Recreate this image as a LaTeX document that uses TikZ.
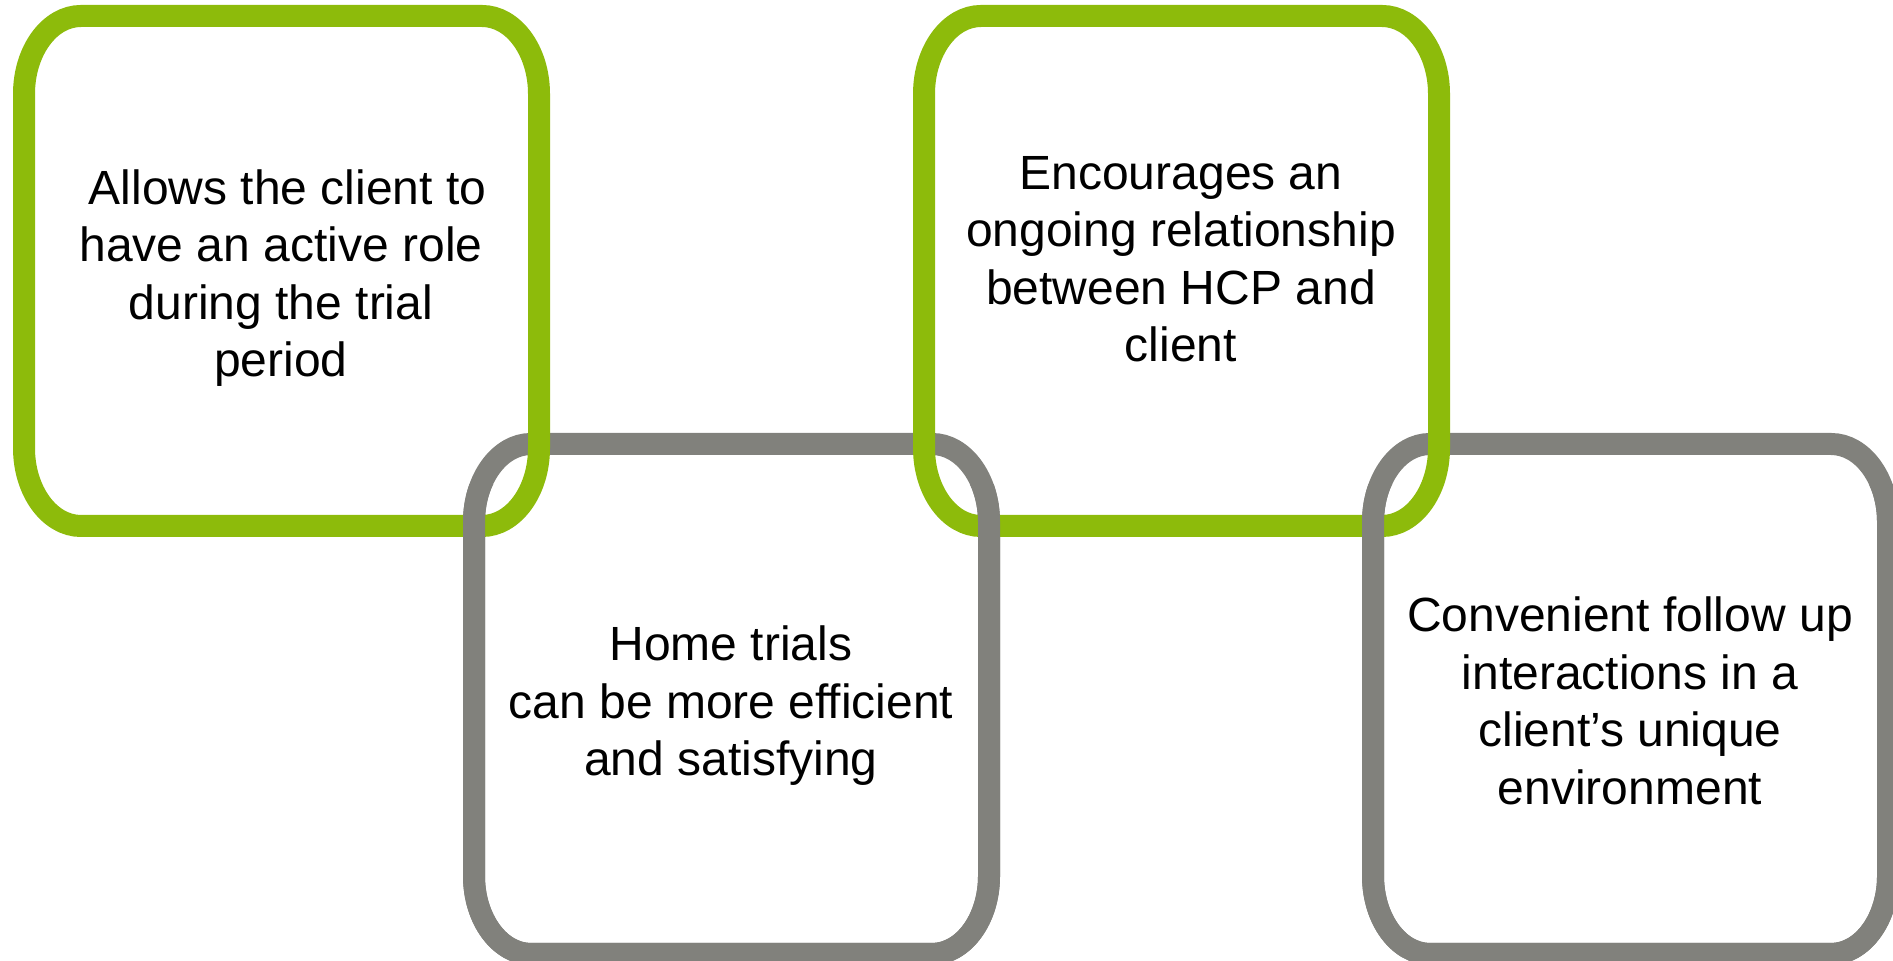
\documentclass[tikz,border=0pt]{standalone}
\usepackage{fontspec}
\setmainfont{Liberation Sans}
\definecolor{boxgreen}{HTML}{8DBB0B}
\definecolor{boxgray}{HTML}{81817C}
\newcommand\roundbox[5]{%
  \draw[#5] ({#1+57},#2) -- ({#3-57},#2)
    arc[start angle=90,end angle=0,x radius=57,y radius=78]
    -- (#3,{#4+78})
    arc[start angle=0,end angle=-90,x radius=57,y radius=78]
    -- ({#1+57},#4)
    arc[start angle=270,end angle=180,x radius=57,y radius=78]
    -- (#1,{#2-78})
    arc[start angle=180,end angle=90,x radius=57,y radius=78]
    -- cycle;}
\begin{document}
\begin{tikzpicture}[x=0.5pt,y=0.5pt,
  frame/.style={line width=11pt},
  greenframe/.style={frame,draw=boxgreen},
  grayframe/.style={frame,draw=boxgray},
  boxtext/.style={align=center,inner sep=0pt,text=black,
    font=\fontsize{24}{28.75}\selectfont}]
\useasboundingbox (0,0) rectangle (1893,961);
% gray boxes (under)
\roundbox{474}{517}{989}{7}{grayframe}
\roundbox{1373}{517}{1888}{7}{grayframe}
% green boxes
\roundbox{24}{945}{539}{435}{greenframe}
\roundbox{924}{945}{1439}{435}{greenframe}
% gray boxes again, lower part on top
\begin{scope}
\clip (-20,-20) rectangle (1920,476);
\roundbox{474}{517}{989}{7}{grayframe}
\roundbox{1373}{517}{1888}{7}{grayframe}
\end{scope}
\node[boxtext] (t1) at (281,683) {~Allows the client to\\have an active role\\during the trial\\period};
\node[boxtext] (t2) at (731,255) {Home trials\\can be more efficient\\and satisfying};
\node[boxtext] (t3) at (1181,702) {Encourages an\\ongoing relationship\\between HCP and\\client};
\node[boxtext] (t4) at (1630,260) {Convenient follow up\\interactions in a\\client’s unique\\environment};
\end{tikzpicture}
\end{document}
